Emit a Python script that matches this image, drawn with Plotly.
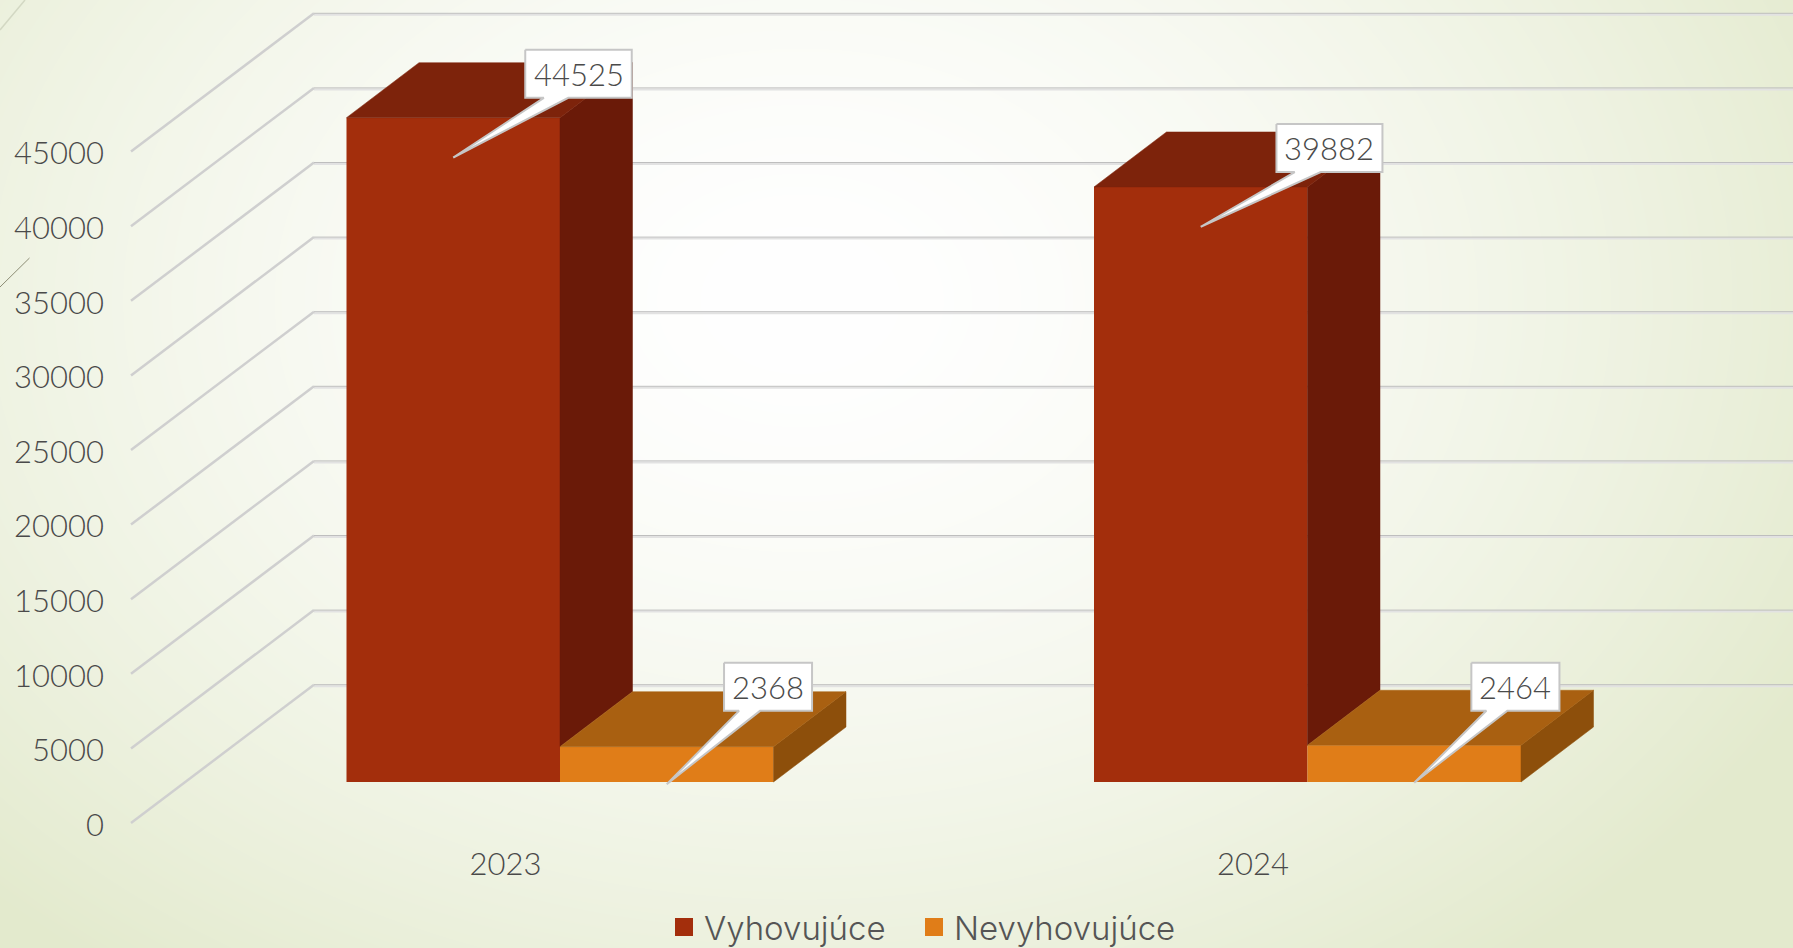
import base64, struct, zlib
import numpy as np
import plotly.graph_objects as go

# ---- data ----
categories = ["2023", "2024"]
vyhovujuce = [44525, 39882]
nevyhovujuce = [2368, 2464]
y_ticks = [0, 5000, 10000, 15000, 20000, 25000, 30000, 35000, 40000, 45000]
series_names = ["Vyhovujúce", "Nevyhovujúce"]

# ---- geometry / style ----
W, H = 1793, 948
PX_X = 747.5           # pixels per category
PX_Y = 0.01492         # pixels per value unit
X0_PX = 505.4          # pixel of first category tick
BASE_PX = 782.0        # pixel of value 0 on the bar plane
FRONT_BASE_PX = 823.0  # pixel of value 0 on the front edge of the wall
BACK_BASE_PX = 684.7
BAR_W = 213.5 / PX_X
OFF_1 = (346.5 - X0_PX) / PX_X
OFF_2 = OFF_1 + BAR_W
DEPTH_X = 72.5 / PX_X
DEPTH_Y = 55.0 / PX_Y
FONT = "Lato"
LEG_FONT = "Inter"
TXT = "#4A4A4A"
C = {"f1": "#A32E0C", "t1": "#7D230B", "s1": "#6A1A08",
     "f2": "#E07D18", "t2": "#A96011", "s2": "#8D4F0B"}

def xpx(p):   # pixel offset -> x units
    return p / PX_X
def ypx(p):   # pixel offset (down positive) -> y units
    return -p / PX_Y

# ---- background image ----
def gradient_png(w, h):
    yy, xx = np.mgrid[0:h, 0:w]
    t = np.sqrt(((xx - 800) / 1150.0) ** 2 + ((yy - 300) / 850.0) ** 2)
    t = np.clip(t, 0, 1)[..., None] ** 1.6
    a = np.array([255, 255, 255.0])
    b = np.array([227, 234, 205.0])
    img = (a + (b - a) * t).astype(np.uint8)
    raw = b"".join(b"\x00" + img[i].tobytes() for i in range(h))
    def chunk(t_, d):
        return struct.pack(">I", len(d)) + t_ + d + struct.pack(">I", zlib.crc32(t_ + d) & 0xffffffff)
    png = (b"\x89PNG\r\n\x1a\n" + chunk(b"IHDR", struct.pack(">IIBBBBB", w, h, 8, 2, 0, 0, 0))
           + chunk(b"IDAT", zlib.compress(raw, 9)) + chunk(b"IEND", b""))
    return "data:image/png;base64," + base64.b64encode(png).decode()

fig = go.Figure()

# ---- front faces ----
fig.add_trace(go.Bar(x=list(range(len(categories))), y=vyhovujuce, width=BAR_W, offset=OFF_1,
                     marker=dict(color=C["f1"], line=dict(width=0)), name=series_names[0], showlegend=False))
fig.add_trace(go.Bar(x=list(range(len(categories))), y=nevyhovujuce, width=BAR_W, offset=OFF_2,
                     marker=dict(color=C["f2"], line=dict(width=0)), name=series_names[1], showlegend=False))

def poly(xs, ys, color, line=None, lw=0):
    fig.add_trace(go.Scatter(x=xs + xs[:1], y=ys + ys[:1], mode="lines", fill="toself", fillcolor=color,
                             line=dict(color=line or color, width=lw if line else 0.5),
                             hoverinfo="skip", showlegend=False))

# ---- 3D top and side faces, derived from the values ----
for i in range(len(categories)):
    for vals, off, t, s, floor in ((vyhovujuce, OFF_1, C["t1"], C["s1"], nevyhovujuce[i]),
                                   (nevyhovujuce, OFF_2, C["t2"], C["s2"], 0)):
        l, r, v = i + off, i + off + BAR_W, vals[i]
        poly([r, r + DEPTH_X, r + DEPTH_X, r], [floor, floor + DEPTH_Y, v + DEPTH_Y, v], s)
        poly([l, l + DEPTH_X, r + DEPTH_X, r], [v, v + DEPTH_Y, v + DEPTH_Y, v], t)

# ---- callouts ----  (tip below bar top; box rel. to tip: left, top, right, bottom; tail base left, right - pixels)
callouts = [
    (vyhovujuce[0], 0, OFF_1, 39.8, (72, -107.7, 178.5, -59.7), (90.6, 115)),
    (nevyhovujuce[0], 0, OFF_2, 37.5, (57.3, -121.3, 145.3, -73.3), (72.3, 93.3)),
    (vyhovujuce[1], 1, OFF_1, 39.8, (75.7, -102.7, 181.7, -54.7), (94, 120)),
    (nevyhovujuce[1], 1, OFF_2, 37.5, (57.1, -120, 145.2, -72), (72.1, 93.1)),
]
for v, i, off, drop, box, tail in callouts:
    tx = i + off + BAR_W / 2
    ty = v + ypx(drop)
    L, T, R, B = box
    xs = [L, R, R, tail[1], 0, tail[0], L]
    ys = [T, T, B, B, 0, B, B]
    poly([tx + xpx(p) for p in xs], [ty + ypx(p) for p in ys], "#FFFFFF", line="#C6C6C6", lw=2)
    fig.add_annotation(x=tx + xpx((L + R) / 2), y=ty + ypx((T + B) / 2), text=str(v), showarrow=False,
                       font=dict(family=FONT, size=31, color=TXT, weight=300), xanchor="center", yanchor="middle")

# ---- legend entries (one legend each, so that the gap between them can be set) ----
for name, col, leg in zip(series_names, (C["f1"], C["f2"]), ("legend", "legend2")):
    fig.add_trace(go.Scatter(x=[None], y=[None], mode="markers", name=name, legend=leg, showlegend=True,
                             marker=dict(symbol="square", size=16, color=col, line=dict(color=col, width=2))))

# ---- walls ----
shapes = []
back_off = (BASE_PX - BACK_BASE_PX) / PX_Y
wall_rise = (FRONT_BASE_PX - BACK_BASE_PX) / PX_Y
xl_back = xpx(314 - X0_PX)
xl_front = xpx(131 - X0_PX)
xr = xpx(W - X0_PX)
for t in y_ticks:
    yb = t + back_off
    shapes.append(dict(type="line", layer="below", xref="x", yref="y", x0=xl_back, x1=xr,
                       y0=yb + ypx(1.5), y1=yb + ypx(1.5), line=dict(color="#E2E2E2", width=2)))
    shapes.append(dict(type="line", layer="below", xref="x", yref="y", x0=xl_back, x1=xr,
                       y0=yb, y1=yb, line=dict(color="#BEBEBE", width=1)))
# side-wall lines live on the tick axis, so that it is drawn with its labels
wx, wy = [], []
for t in y_ticks:
    wx += [xl_front, xl_back, None]
    wy += [t, t + wall_rise, None]
fig.add_trace(go.Scatter(x=wx, y=wy, yaxis="y2", mode="lines", line=dict(color="#CFCFCF", width=2.5),
                         hoverinfo="skip", showlegend=False))
# decorative theme strokes
shapes.append(dict(type="line", layer="below", xref="paper", yref="paper", x0=0, x1=25 / W,
                   y0=1 - 30 / H, y1=1, line=dict(color="#D3D8C3", width=1.5)))
shapes.append(dict(type="line", layer="below", xref="paper", yref="paper", x0=0, x1=29.5 / W,
                   y0=1 - 287 / H, y1=1 - 258 / H, line=dict(color="#8C8C74", width=1)))

LEG = dict(orientation="h", xanchor="left", y=1 - 899 / H, yanchor="top", bgcolor="rgba(0,0,0,0)",
           font=dict(family=LEG_FONT, size=33, color="#555555", weight=300), itemclick=False, itemdoubleclick=False)

fig.update_layout(
    width=W, height=H, margin=dict(l=0, r=0, t=0, b=0, pad=0, autoexpand=False),
    paper_bgcolor="rgba(0,0,0,0)", plot_bgcolor="rgba(0,0,0,0)",
    barmode="overlay", shapes=shapes, hovermode=False,
    images=[dict(source=gradient_png(W, H), xref="paper", yref="paper", x=0, y=1, sizex=1, sizey=1,
                 sizing="stretch", layer="below", xanchor="left", yanchor="top")],
    font=dict(family=FONT, color=TXT, size=31),
    xaxis=dict(range=[xpx(-X0_PX), xpx(W - X0_PX)], tickvals=list(range(len(categories))), ticktext=categories,
               showgrid=False, zeroline=False, showline=False, ticks="", anchor="free", position=(H - 843) / H,
               tickfont=dict(family=FONT, size=31, color=TXT, weight=300), fixedrange=True),
    yaxis=dict(range=[(BASE_PX - H) / PX_Y, BASE_PX / PX_Y], visible=False, fixedrange=True),
    yaxis2=dict(range=[(FRONT_BASE_PX - H) / PX_Y, FRONT_BASE_PX / PX_Y], overlaying="y", side="left",
                anchor="free", position=104 / W, tickvals=y_ticks, ticktext=[str(t) for t in y_ticks],
                showgrid=False, zeroline=False, showline=False, ticks="", ticklabelshift=2,
                tickfont=dict(family=FONT, size=31, color=TXT, weight=300), fixedrange=True),
    showlegend=True,
    legend=dict(LEG, x=664 / W),
    legend2=dict(LEG, x=914 / W),
)

fig.write_html("out.html", config=dict(displayModeBar=False),
               post_script="document.body.style.margin='0';document.body.style.overflow='hidden';")
